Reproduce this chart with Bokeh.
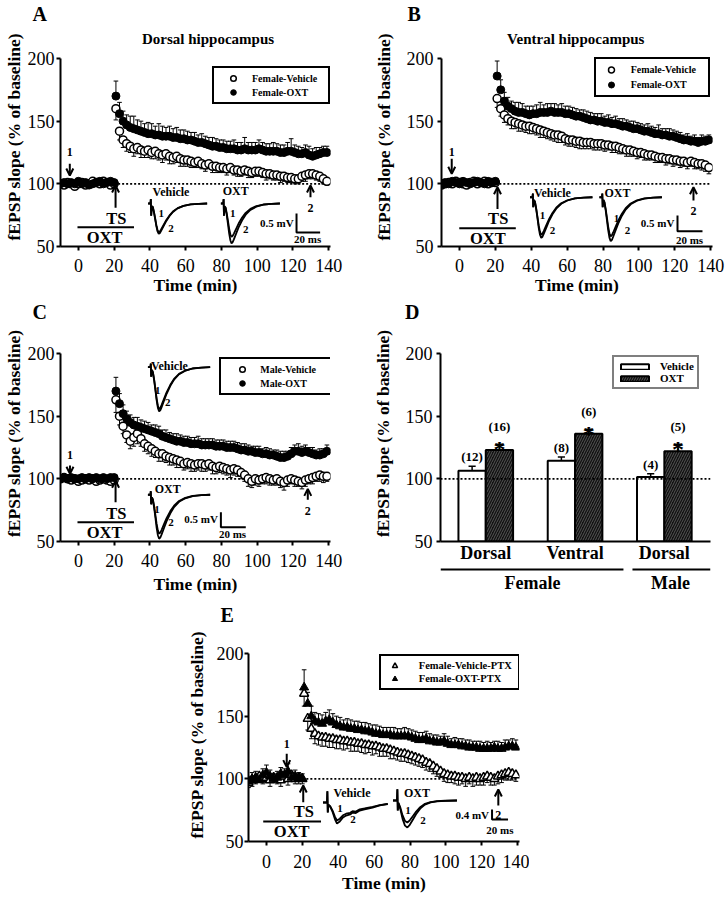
import numpy as np
from bokeh.plotting import figure
from bokeh.models import (Range1d, FixedTicker, Legend, LegendItem, Label, Arrow,
                          OpenHead, Span, Spacer, Title)
from bokeh.layouts import row, column
from bokeh.embed import file_html
from bokeh.resources import INLINE
from bokeh.core.properties import value

SERIF = "Liberation Serif"
PXU = 188 / 150          # pixels per y unit (50..200 spans 188 px)

# ---------------- data ----------------
TIME = list(range(-10, 21, 2)) + list(range(21, 140, 2))   # minutes
X_TICKS = [0, 20, 40, 60, 80, 100, 120, 140]
Y_TICKS = [50, 100, 150, 200]

A_VEH = [100, 99, 101, 100, 98, 100, 101, 99, 100, 102, 101, 100, 102, 101, 99, 100,
         160, 142, 135, 132, 130, 128, 129, 127, 126, 127,
         125, 126, 124, 123, 124, 122, 121, 122, 120, 119,
         119, 118, 117, 118, 116, 115, 116, 114, 114, 113,
         113, 112, 113, 111, 111, 110, 111, 110, 109, 110,
         110, 109, 108, 108, 107, 107, 106, 106, 105, 105,
         104, 104, 106, 107, 108, 108, 107, 106, 104, 102]
A_VEH_SEM = [1, 1, 1, 1, 1, 2, 1, 1, 1, 1, 2, 1, 1, 1, 1, 1,
             9, 7, 6, 6, 5, 6, 5, 6, 5, 6, 5, 6, 5, 6, 5, 6, 5, 5, 6, 5,
             5, 5, 4, 5, 4, 5, 4, 5, 5, 4, 4, 5, 4, 4, 5, 4, 4, 5, 4, 4,
             4, 4, 5, 4, 4, 4, 5, 4, 4, 4, 4, 4, 4, 5, 4, 4, 4, 4, 4, 3]
A_OXT = [100, 101, 100, 101, 100, 102, 100, 101, 99, 100, 101, 102, 100, 101, 102, 101,
         170, 156, 150, 147, 145, 144, 143, 142, 141, 140,
         140, 139, 139, 138, 138, 138, 137, 137, 136, 136,
         135, 135, 134, 133, 133, 132, 131, 130, 130, 129,
         129, 128, 128, 128, 127, 127, 128, 127, 127, 127,
         128, 127, 126, 126, 126, 126, 125, 125, 126, 126,
         125, 124, 124, 125, 123, 122, 123, 124, 125, 125]
A_OXT_SEM = [2, 1, 1, 2, 1, 1, 2, 1, 1, 1, 2, 1, 1, 2, 1, 1,
             12, 9, 8, 8, 9, 10, 8, 8, 7, 9, 8, 7, 9, 8, 7, 8, 7, 8, 7, 7,
             7, 6, 7, 6, 7, 6, 6, 7, 6, 6, 6, 6, 6, 7, 6, 6, 9, 6, 6, 6,
             7, 6, 6, 6, 7, 6, 6, 6, 7, 10, 6, 6, 5, 6, 7, 6, 6, 5, 5, 5]

B_VEH = [99, 100, 101, 100, 102, 101, 100, 99, 101, 102, 100, 101, 102, 100, 101, 101,
         168, 160, 155, 152, 150, 149, 148, 147, 146, 146,
         145, 144, 143, 142, 141, 140, 139, 139, 138, 136,
         135, 135, 134, 134, 133, 133, 133, 132, 132, 132,
         131, 131, 130, 130, 129, 128, 127, 127, 126, 125,
         125, 124, 123, 123, 122, 121, 121, 120, 120, 119,
         119, 118, 118, 117, 118, 117, 116, 116, 115, 113]
B_VEH_SEM = [1, 1, 2, 1, 1, 1, 2, 1, 1, 1, 1, 2, 1, 1, 1, 1,
             7, 6, 6, 5, 6, 5, 6, 5, 5, 6, 5, 5, 6, 5, 5, 5, 5, 6, 5, 5,
             5, 5, 5, 6, 5, 5, 5, 5, 5, 5, 5, 4, 5, 5, 5, 4, 5, 5, 4, 5,
             4, 5, 4, 4, 5, 4, 4, 5, 4, 5, 4, 5, 4, 5, 4, 5, 4, 5, 5, 5]
B_OXT = [100, 101, 100, 102, 101, 100, 102, 101, 100, 101, 102, 101, 100, 102, 101, 102,
         186, 175, 166, 162, 160, 158, 157, 157, 156, 155,
         156, 156, 157, 157, 157, 158, 157, 157, 157, 156,
         156, 155, 154, 154, 153, 152, 151, 151, 150, 150,
         149, 149, 148, 148, 147, 146, 146, 145, 144, 144,
         143, 142, 142, 141, 140, 140, 139, 139, 138, 138,
         137, 136, 135, 135, 134, 134, 133, 134, 134, 135]
B_OXT_SEM = [1, 2, 1, 1, 2, 1, 1, 1, 2, 1, 1, 1, 2, 1, 1, 1,
             12, 8, 7, 7, 6, 7, 8, 7, 6, 7, 6, 7, 8, 6, 7, 6, 7, 6, 7, 6,
             6, 6, 6, 5, 6, 6, 6, 5, 6, 6, 5, 6, 5, 6, 5, 6, 5, 5, 6, 5,
             5, 5, 6, 5, 5, 7, 5, 5, 6, 5, 5, 5, 4, 5, 4, 5, 4, 5, 4, 4]

C_VEH = [100, 101, 100, 99, 100, 98, 99, 100, 99, 100, 98, 99, 100, 99, 98, 99,
         163, 150, 142, 135, 130, 133, 136, 132, 128, 126,
         124, 122, 120, 120, 118, 117, 116, 115, 114, 112,
         113, 112, 111, 112, 112, 111, 112, 110, 109, 110,
         109, 108, 107, 108, 107, 105, 103, 100, 98, 100,
         99, 100, 101, 100, 99, 100, 98, 97, 99, 100,
         99, 98, 97, 99, 100, 101, 102, 103, 102, 102]
C_VEH_SEM = [1, 1, 1, 1, 1, 1, 2, 1, 1, 1, 1, 2, 1, 1, 1, 1,
             10, 7, 6, 6, 6, 7, 8, 6, 6, 6, 6, 5, 6, 6, 5, 6, 5, 6, 5, 5,
             5, 6, 5, 5, 6, 5, 5, 6, 5, 5, 5, 5, 6, 5, 5, 5, 5, 6, 5, 5,
             5, 4, 5, 5, 4, 5, 5, 6, 5, 4, 5, 4, 5, 5, 4, 5, 4, 5, 5, 4]
C_OXT = [100, 101, 100, 101, 100, 100, 101, 100, 101, 100, 101, 100, 101, 100, 101, 101,
         170, 160, 152, 148, 145, 143, 142, 141, 140, 139,
         138, 137, 136, 134, 133, 132, 131, 130, 130, 129,
         129, 128, 128, 128, 127, 127, 127, 127, 126, 126,
         126, 125, 125, 125, 124, 123, 123, 122, 122, 121,
         121, 120, 120, 119, 119, 118, 117, 117, 118, 120,
         122, 122, 121, 122, 121, 120, 119, 119, 120, 122]
C_OXT_SEM = [1, 1, 1, 1, 1, 1, 1, 2, 1, 1, 1, 1, 1, 2, 1, 1,
             11, 8, 7, 6, 6, 6, 7, 6, 6, 6, 5, 6, 6, 5, 6, 5, 5, 6, 5, 5,
             5, 5, 5, 6, 5, 5, 5, 5, 5, 5, 5, 5, 5, 5, 5, 5, 5, 5, 4, 5,
             5, 4, 5, 5, 4, 5, 5, 5, 4, 5, 5, 6, 5, 5, 4, 5, 4, 5, 4, 5]

E_VEH = [97, 99, 100, 102, 100, 101, 99, 101, 100, 99, 102, 100, 103, 100, 101, 100,
         168, 148, 140, 136, 134, 133, 133, 132, 132, 131,
         131, 130, 130, 129, 129, 128, 128, 127, 127, 126,
         126, 125, 124, 124, 123, 122, 121, 120, 120, 119,
         118, 117, 116, 115, 113, 112, 110, 108, 106, 104,
         103, 102, 102, 101, 101, 100, 101, 100, 101, 100,
         101, 102, 101, 100, 102, 103, 104, 105, 104, 103]
E_VEH_SEM = [4, 5, 4, 5, 4, 4, 5, 4, 4, 5, 4, 5, 4, 4, 5, 4,
             10, 9, 8, 8, 7, 7, 7, 7, 7, 7, 7, 7, 6, 7, 7, 6, 7, 7, 6, 7,
             6, 7, 6, 6, 7, 6, 6, 6, 6, 6, 6, 6, 6, 6, 6, 6, 6, 6, 5, 6,
             6, 5, 6, 6, 5, 6, 5, 6, 6, 5, 6, 5, 6, 5, 6, 6, 5, 6, 5, 5]
E_OXT = [98, 100, 101, 99, 103, 105, 102, 100, 101, 104, 103, 106, 101, 102, 101, 100,
         173, 160, 150, 146, 145, 144, 146, 147, 145, 143,
         142, 141, 141, 140, 140, 139, 139, 138, 138, 137,
         136, 136, 135, 135, 135, 134, 134, 134, 134, 134,
         133, 132, 131, 131, 132, 130, 130, 129, 129, 130,
         128, 127, 127, 127, 126, 126, 125, 125, 125, 124,
         124, 124, 124, 125, 124, 124, 125, 126, 126, 125]
E_OXT_SEM = [4, 5, 5, 4, 5, 6, 5, 4, 5, 5, 5, 6, 4, 5, 4, 4,
             14, 9, 8, 7, 7, 7, 7, 8, 7, 7, 7, 6, 7, 7, 6, 7, 6, 7, 6, 6,
             7, 6, 6, 6, 6, 7, 6, 6, 7, 6, 6, 6, 6, 6, 6, 6, 5, 6, 5, 6,
             6, 5, 6, 5, 6, 5, 6, 5, 5, 6, 5, 6, 5, 5, 6, 5, 6, 5, 6, 6]

# panel D (bar chart)
D_POS = [1, 2, 3]
D_REGION = ["Dorsal", "Ventral", "Dorsal"]
D_VEH = [106.5, 114.5, 101.5]
D_VEH_SEM = [3.5, 3.0, 2.5]
D_OXT = [123, 136, 122]
D_OXT_SEM = [4.5, 3.5, 5.5]
D_VEH_N = ["(12)", "(8)", "(4)"]
D_OXT_N = ["(16)", "(6)", "(5)"]
D_SEX = ["Female", "Male"]

# representative fEPSP traces (ms, mV) : artifact + scaled EPSP shape
W_MS = [0, 2, 2.3, 2.6, 3.2, 4, 5, 6, 7, 8, 9, 10, 11, 13, 15, 18, 21, 25, 30, 36, 43, 50]
W_ART = [0, 0, 0.12, -0.32, -0.05, 0, 0, 0, 0, 0, 0, 0, 0, 0, 0, 0, 0, 0, 0, 0, 0, 0]
W_SHAPE = [0, 0, 0, 0, 0.03, 0.12, 0.3, 0.52, 0.75, 0.92, 1.0, 0.97, 0.9, 0.75, 0.6,
           0.42, 0.28, 0.16, 0.08, 0.03, 0.01, 0]
P_MS = [0, 5, 5.5, 6.0, 6.8, 9, 12, 15, 17.5, 21, 25, 29, 34, 37, 41, 46, 52, 62, 71, 81]
P_ART = [0, 0, 0.45, -0.4, -0.05, 0, 0, 0, 0, 0, 0, 0, 0, 0, 0, 0, 0, 0, 0, 0]
P_SHAPE = [0, 0, 0, 0, 0.05, 0.2, 0.45, 0.8, 1.0, 0.9, 0.71, 0.62, 0.57, 0.48, 0.5,
           0.38, 0.33, 0.24, 0.14, 0.07]
Q_MS = [0, 5, 5.5, 6.0, 6.8, 9, 12, 15, 18, 21, 25, 29, 34, 40, 47, 55, 65, 80]
Q_ART = [0, 0, 0.45, -0.4, -0.05, 0, 0, 0, 0, 0, 0, 0, 0, 0, 0, 0, 0, 0]
Q_SHAPE = [0, 0, 0, 0, 0.05, 0.3, 0.68, 0.93, 1.0, 0.9, 0.7, 0.5, 0.3, 0.15, 0.07,
           0.03, 0.01, 0]

STD = (W_MS, W_ART, W_SHAPE)
PTX_V = (P_MS, P_ART, P_SHAPE)
PTX_O = (Q_MS, Q_ART, Q_SHAPE)


# ---------------- helpers ----------------
def txt(p, x, y, text, size, bold=True, align="center", baseline="middle"):
    p.add_layout(Label(x=x, y=y, text=text, text_font=SERIF, text_font_size=f"{size}px",
                       text_font_style="bold" if bold else "normal", text_align=align,
                       text_baseline=baseline, text_color="black"))


def arrow(p, x, y0, y1):
    p.add_layout(Arrow(x_start=x, y_start=y0, x_end=x, y_end=y1, line_width=2,
                       line_color="black",
                       end=OpenHead(size=7, line_width=2, line_color="black")))


def letter(p, text, off):
    p.add_layout(Title(text=text, align="left", offset=off, standoff=0,
                       vertical_align="top",
                       text_font=SERIF, text_font_size="20px", text_font_style="bold",
                       text_color="black"), "above")


def style(p, yls, yas):
    p.outline_line_color = None
    p.xgrid.visible = False
    p.ygrid.visible = False
    for ax in (p.xaxis[0], p.yaxis[0]):
        ax.axis_line_width = 2
        ax.axis_line_color = "black"
        ax.major_tick_line_width = 2
        ax.major_tick_line_color = "black"
        ax.major_tick_out = 4
        ax.major_tick_in = 0
        ax.minor_tick_line_color = None
        ax.major_label_text_font = SERIF
        ax.major_label_text_font_size = "18px"
        ax.major_label_text_color = "black"
        ax.axis_label_text_font = SERIF
        ax.axis_label_text_font_size = "17.5px"
        ax.axis_label_text_font_style = "bold"
        ax.axis_label_text_color = "black"
    p.yaxis.ticker = FixedTicker(ticks=Y_TICKS)
    p.yaxis.bounds = (50, 200)
    p.yaxis.axis_label = "fEPSP slope (% of baseline)"
    p.yaxis.major_label_standoff = yls
    p.yaxis.axis_label_standoff = yas


def trace(p, x0, y0, kx, ky, tpl, amp):
    ms, art, shape = tpl
    xs = [x0 + t * kx for t in ms]
    ys = [y0 + (a - amp * s) * ky for a, s in zip(art, shape)]
    p.line(xs, ys, line_color="black", line_width=1.8)


def y_top(h, bt, bb):
    return 50 + (h - bt - bb) / PXU


def time_panel(c):
    p = figure(width=c["w"], height=c["h"], x_range=Range1d(-10, 141),
               y_range=Range1d(50, y_top(c["h"], c["bt"], c["bb"])),
               min_border_left=c["bl"], min_border_right=c["br"],
               min_border_top=c["bt"], min_border_bottom=c["bb"],
               output_backend="svg", toolbar_location=None)
    style(p, c["yls"], c["yas"])
    p.xaxis.ticker = FixedTicker(ticks=X_TICKS)
    p.xaxis.axis_label = "Time (min)"
    p.xaxis.major_label_standoff = c["xls"]
    p.xaxis.axis_label_standoff = c["xas"]
    letter(p, c["letter"][0], c["letter"][1])
    if c.get("title"):
        txt(p, c["title"][1], c["title"][2], c["title"][0], 15)

    p.line([20, 140], [100, 100], line_dash="2 2", line_width=1.6, line_color="black")

    t = np.array(TIME, float)
    veh = np.array(c["veh"], float)
    vs = np.array(c["veh_sem"], float)
    oxt = np.array(c["oxt"], float)
    osm = np.array(c["oxt_sem"], float)
    cap = 1.3
    p.segment(t, veh, t, veh - vs, line_color="black", line_width=1)
    p.segment(t - cap, veh - vs, t + cap, veh - vs, line_color="black", line_width=1)
    r_v = p.scatter(t, veh, marker=c["marker"], size=c["msize"], fill_color="white",
                    line_color="black", line_width=1.5)
    p.segment(t, oxt, t, oxt + osm, line_color="black", line_width=1)
    p.segment(t - cap, oxt + osm, t + cap, oxt + osm, line_color="black", line_width=1)
    r_o = p.scatter(t, oxt, marker=c["marker"], size=c["msize"], fill_color="black",
                    line_color="black", line_width=1)

    # arrows 1, 2 and TS
    x, y0, y1, ty = c["a1"]
    arrow(p, x, y0, y1)
    txt(p, x, ty, "1", 12)
    x, y0, y1, ty = c["a2"]
    arrow(p, x, y0, y1)
    txt(p, x, ty, "2", 12)
    x, y0, y1, ty = c["ts"]
    arrow(p, x, y0, y1)
    txt(p, x + 0.4, ty, "TS", 16.5)
    bx0, bx1, by = c["bar"]
    p.line([bx0, bx1], [by, by], line_color="black", line_width=2)
    txt(p, c["oxt_txt"][0], c["oxt_txt"][1], "OXT", 16.5)

    # insets
    kx, ky = c["kx"], c["ky"]
    for key, name in (("vi", "Vehicle"), ("oi", "OXT")):
        d = c[key]
        for amp in d["amps"]:
            trace(p, d["x"], d["y"], kx, ky, d["tpl"], amp)
        txt(p, d["lab"][0], d["lab"][1], name, 12)
        txt(p, d["n1"][0], d["n1"][1], "1", 11)
        txt(p, d["n2"][0], d["n2"][1], "2", 11)
    s = c["sb"]
    p.line([s["x"], s["x"], s["x"] + 20 * kx], [s["y"] + s["mv"] * ky, s["y"], s["y"]],
           line_color="black", line_width=2)
    txt(p, s["mvt"][0], s["mvt"][1], f"{s['mv']} mV", 11, align="right")
    txt(p, s["mst"][0], s["mst"][1], "20 ms", 11)

    L = c["leg"]
    leg = Legend(items=[LegendItem(label=c["names"][0], renderers=[r_v]),
                        LegendItem(label=c["names"][1], renderers=[r_o])],
                 location=L["loc"], orientation="vertical",
                 border_line_color="black", border_line_width=2, border_line_alpha=1,
                 background_fill_color="white", background_fill_alpha=1,
                 label_text_font=SERIF, label_text_font_style="bold",
                 label_text_font_size=L["fs"], label_text_color="black",
                 padding=3, spacing=0, margin=0,
                 glyph_width=L["gw"], glyph_height=L["gh"], label_height=L["gh"],
                 label_standoff=L["st"], label_width=L["lw"])
    p.add_layout(leg)
    return p


# ---------------- panels ----------------
cfgA = dict(w=362, h=297, bl=59, br=32, bt=26, bb=51, yls=2, yas=1, xls=8, xas=0,
            letter=("A", -28), title=("Dorsal hippocampus", 72.5, 215.7),
            veh=A_VEH, veh_sem=A_VEH_SEM, oxt=A_OXT, oxt_sem=A_OXT_SEM,
            marker="circle", msize=8, names=["Female-Vehicle", "Female-OXT"],
            a1=(-4.8, 116, 106.6, 125.2), a2=(129.8, 89.3, 98.7, 80.9),
            ts=(20.8, 80.9, 98.7, 72.1), bar=(-0.5, 31.1, 65.4), oxt_txt=(14.7, 57),
            kx=0.66, ky=30.3,
            vi=dict(x=39.0, y=84.3, amps=(0.76, 0.8), tpl=STD, lab=(51.8, 93.1),
                    n1=(46.3, 76.3), n2=(51.8, 64.4)),
            oi=dict(x=79.7, y=84.3, amps=(0.88, 1.05), tpl=STD, lab=(88, 93.9),
                    n1=(86.4, 76.3), n2=(93.6, 63.6)),
            sb=dict(x=122, y=61.2, mv=0.5, mvt=(120.4, 69.1), mst=(128.2, 55.6)),
            leg=dict(loc=(152, 142), fs="10px", gh=14, gw=32, st=3, lw=73))

cfgB = dict(w=363, h=297, bl=79, br=13, bt=26, bb=51, yls=4, yas=10, xls=8, xas=0,
            letter=("B", -34), title=("Ventral hippocampus", 64.8, 215.7),
            veh=B_VEH, veh_sem=B_VEH_SEM, oxt=B_OXT, oxt_sem=B_OXT_SEM,
            marker="circle", msize=8, names=["Female-Vehicle", "Female-OXT"],
            a1=(-4.3, 120, 108, 125.2), a2=(130.4, 86.7, 97.3, 78.2),
            ts=(21.2, 80, 97.3, 72.1), bar=(-0.1, 31.4, 64.6), oxt_txt=(15.8, 56.1),
            kx=0.696, ky=25.0,
            vi=dict(x=39.3, y=89.3, amps=(1.2, 1.3), tpl=STD, lab=(51.8, 92.5),
                    n1=(46.3, 74.7), n2=(51.8, 62.8)),
            oi=dict(x=78.0, y=89.3, amps=(1.25, 1.4), tpl=STD, lab=(88, 92.5),
                    n1=(87.5, 72.1), n2=(93.6, 62.8)),
            sb=dict(x=121.5, y=62.2, mv=0.5, mvt=(119.8, 69.1), mst=(128.2, 55.3)),
            leg=dict(loc=(152.7, 149.3), fs="10px", gh=15, gw=24, st=8, lw=74))

cfgC = dict(w=362, h=299, bl=59, br=32, bt=27, bb=55, yls=2, yas=1, xls=8, xas=4,
            letter=("C", -28), title=None,
            veh=C_VEH, veh_sem=C_VEH_SEM, oxt=C_OXT, oxt_sem=C_OXT_SEM,
            marker="circle", msize=8, names=["Male-Vehicle", "Male-OXT"],
            a1=(-4.7, 110.6, 104, 119.4), a2=(128.3, 83.3, 92, 74.2),
            ts=(20.8, 81.4, 98.5, 72.1), bar=(-0.5, 31.1, 65.4), oxt_txt=(14.7, 57.4),
            kx=0.696, ky=23.9,
            vi=dict(x=38.9, y=189.1, amps=(1.4, 1.48), tpl=STD, lab=(50.9, 190.4),
                    n1=(44.4, 170.5), n2=(50, 161.1)),
            oi=dict(x=38.9, y=87.3, amps=(1.3, 1.47), tpl=STD, lab=(50, 92),
                    n1=(44, 75.3), n2=(51.8, 65.4)),
            sb=dict(x=79.7, y=61.4, mv=0.5, mvt=(78, 68.1), mst=(86.2, 56.1)),
            leg=dict(loc=(159.3, 146), fs="10px", gh=14, gw=36, st=0, lw=70))

cfgE = dict(w=349, h=302, bl=68, br=10, bt=31, bb=57, yls=1, yas=7, xls=9, xas=2,
            letter=("E", -28), title=None,
            veh=E_VEH, veh_sem=E_VEH_SEM, oxt=E_OXT, oxt_sem=E_OXT_SEM,
            marker="triangle", msize=9, names=["Female-Vehicle-PTX", "Female-OXT-PTX"],
            a1=(11.3, 120, 109.3, 127.4), a2=(129.2, 78.7, 91.5, 71.5),
            ts=(20.5, 81.4, 94.7, 73.9), bar=(-1.8, 30.4, 66), oxt_txt=(14.1, 58.2),
            kx=0.4457, ky=19.95,
            vi=dict(x=31.5, y=81.1, amps=(0.72, 0.84), tpl=PTX_V, lab=(47.7, 88.3),
                    n1=(41, 76.3), n2=(48.2, 67.6)),
            oi=dict(x=70.5, y=82.7, amps=(0.88, 1.08), tpl=PTX_O, lab=(83.9, 88.3),
                    n1=(78.9, 74.7), n2=(87.2, 66.8)),
            sb=dict(x=125.7, y=67.5, mv=0.4, mvt=(124, 71.5), mst=(130.1, 58.8)),
            leg=dict(loc=(130.8, 151), fs="10.5px", gh=13, gw=21, st=14, lw=96))

pA = time_panel(cfgA)
pB = time_panel(cfgB)
pC = time_panel(cfgC)
pE = time_panel(cfgE)

# ---------------- panel D ----------------
D_H, D_BT, D_BB = 268, 27, 24
pD = figure(width=363, height=D_H, x_range=Range1d(0.493, 3.517),
            y_range=Range1d(50, y_top(D_H, D_BT, D_BB)),
            min_border_left=78, min_border_right=15, min_border_top=D_BT,
            min_border_bottom=D_BB, output_backend="svg", toolbar_location=None)
style(pD, 4, 10)
letter(pD, "D", -35.5)
pD.xaxis.ticker = FixedTicker(ticks=D_POS)
pD.xaxis.major_label_overrides = {pos: lab for pos, lab in zip(D_POS, D_REGION)}
pD.xaxis.major_tick_line_color = None
pD.xaxis.major_tick_out = 0
pD.xaxis.major_label_text_font_style = "bold"
pD.xaxis.major_label_standoff = 1

half = 0.153
bw = 0.306
xv = [g - half for g in D_POS]
xo = [g + half for g in D_POS]
rv = pD.vbar(x=xv, top=D_VEH, bottom=50, width=bw, fill_color="white",
             line_color="black", line_width=2)
ro = pD.vbar(x=xo, top=D_OXT, bottom=50, width=bw, fill_color="#111111",
             line_color="black", line_width=2, hatch_pattern="/",
             hatch_color="#555555", hatch_weight=1, hatch_scale=5)
vt = [m + s for m, s in zip(D_VEH, D_VEH_SEM)]
ot = [m + s for m, s in zip(D_OXT, D_OXT_SEM)]
c = 0.04
pD.segment(xv, D_VEH, xv, vt, line_color="black", line_width=1.5)
pD.segment([x - c for x in xv], vt, [x + c for x in xv], vt, line_color="black", line_width=1.5)
pD.segment(xo, D_OXT, xo, ot, line_color="black", line_width=1.5)
pD.segment([x - c for x in xo], ot, [x + c for x in xo], ot, line_color="black", line_width=1.5)
pD.add_layout(Span(location=100, dimension="width", line_dash="2 2", line_width=1.6,
                   line_color="black"))
pD.text(x=xv, y=[v + 7.5 for v in vt], text=D_VEH_N, text_font=value(SERIF),
        text_font_size="13px", text_font_style="bold", text_align="center",
        text_baseline="middle", text_color="black")
pD.text(x=xo, y=[v + 14 for v in ot], text=D_OXT_N, text_font=value(SERIF),
        text_font_size="13px", text_font_style="bold", text_align="center",
        text_baseline="middle", text_color="black")
pD.text(x=xo, y=[v - 3.5 for v in ot], text=["*"] * len(xo), text_font=value(SERIF),
        text_font_size="24px", text_font_style="bold", text_align="center",
        text_baseline="alphabetic", text_color="black")

legD = Legend(items=[LegendItem(label="Vehicle", renderers=[rv]),
                     LegendItem(label="OXT", renderers=[ro])],
              location=(172, 152), orientation="vertical",
              border_line_color="black", border_line_width=2,
              background_fill_color="white", background_fill_alpha=1,
              label_text_font=SERIF, label_text_font_style="bold",
              label_text_font_size="11px", label_text_color="black",
              padding=3, spacing=0, margin=0, glyph_width=35, glyph_height=7,
              label_height=12, label_standoff=8)
pD.add_layout(legD)

# grouping strip under panel D (Female / Male)
G_H = 31
pG = figure(width=363, height=G_H, x_range=pD.x_range, y_range=Range1d(0, G_H),
            min_border_left=78, min_border_right=15, min_border_top=0, min_border_bottom=0,
            x_axis_location=None, y_axis_location=None,
            output_backend="svg", toolbar_location=None)
pG.outline_line_color = None
pG.xgrid.visible = False
pG.ygrid.visible = False
pG.segment(x0=[0.493, 2.643], y0=[27, 27], x1=[2.542, 3.517], y1=[27, 27],
           line_color="black", line_width=2)
pG.text(x=[1.523, 3.069], y=[14, 14], text=D_SEX, text_font=value(SERIF),
        text_font_size="18px", text_font_style="bold", text_align="center",
        text_baseline="middle", text_color="black")

layout = column(row(pA, pB), row(pC, column(pD, pG)), row(Spacer(width=180, height=302), pE))

open("out.html", "w").write(file_html(layout, INLINE))
